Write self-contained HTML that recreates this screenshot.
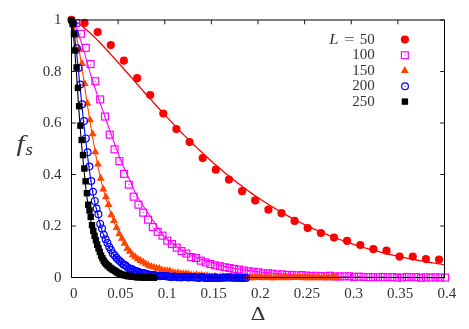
<!DOCTYPE html>
<html><head><meta charset="utf-8"><title>f_s vs Delta</title>
<style>html,body{margin:0;padding:0;background:#fff}svg{display:block}text{font-family:"Liberation Serif",serif;fill:#333}</style></head><body>
<svg width="469" height="329" viewBox="0 0 469 329">
<rect width="469" height="329" fill="#fff"/>
<g stroke="#000" stroke-width="0.9" fill="none"><path d="M71.50,277.5 v-3.9 M71.50,20.0 v4.3"/><path d="M118.12,277.5 v-3.9 M118.12,20.0 v4.3"/><path d="M164.75,277.5 v-3.9 M164.75,20.0 v4.3"/><path d="M211.38,277.5 v-3.9 M211.38,20.0 v4.3"/><path d="M258.00,277.5 v-3.9 M258.00,20.0 v4.3"/><path d="M304.62,277.5 v-3.9 M304.62,20.0 v4.3"/><path d="M351.25,277.5 v-3.9 M351.25,20.0 v4.3"/><path d="M397.88,277.5 v-3.9 M397.88,20.0 v4.3"/><path d="M444.50,277.5 v-3.9 M444.50,20.0 v4.3"/><path d="M71.5,277.50 h4.3 M444.5,277.50 h-4.3"/><path d="M71.5,226.00 h4.3 M444.5,226.00 h-4.3"/><path d="M71.5,174.50 h4.3 M444.5,174.50 h-4.3"/><path d="M71.5,123.00 h4.3 M444.5,123.00 h-4.3"/><path d="M71.5,71.50 h4.3 M444.5,71.50 h-4.3"/><path d="M71.5,20.00 h4.3 M444.5,20.00 h-4.3"/></g>
<g fill="#ff0000"><circle cx="71.4" cy="19.8" r="4.1"/><circle cx="84.5" cy="22.9" r="4.1"/><circle cx="97.7" cy="32.1" r="4.1"/><circle cx="110.8" cy="45.1" r="4.1"/><circle cx="123.9" cy="60.7" r="4.1"/><circle cx="137.1" cy="78.2" r="4.1"/><circle cx="150.2" cy="95.0" r="4.1"/><circle cx="163.3" cy="113.5" r="4.1"/><circle cx="176.4" cy="129.1" r="4.1"/><circle cx="189.6" cy="142.1" r="4.1"/><circle cx="202.7" cy="158.1" r="4.1"/><circle cx="215.8" cy="169.7" r="4.1"/><circle cx="229.0" cy="179.6" r="4.1"/><circle cx="242.1" cy="191.2" r="4.1"/><circle cx="255.2" cy="200.4" r="4.1"/><circle cx="268.4" cy="209.7" r="4.1"/><circle cx="281.5" cy="213.2" r="4.1"/><circle cx="294.6" cy="220.9" r="4.1"/><circle cx="307.7" cy="228.1" r="4.1"/><circle cx="320.9" cy="233.0" r="4.1"/><circle cx="334.0" cy="237.6" r="4.1"/><circle cx="347.1" cy="240.9" r="4.1"/><circle cx="360.3" cy="245.0" r="4.1"/><circle cx="373.4" cy="249.2" r="4.1"/><circle cx="386.5" cy="250.7" r="4.1"/><circle cx="399.6" cy="256.6" r="4.1"/><circle cx="412.8" cy="256.6" r="4.1"/><circle cx="425.9" cy="259.1" r="4.1"/><circle cx="439.0" cy="259.6" r="4.1"/></g>
<path d="M71.4,19.8 L73.7,20.6 L76.1,21.9 L78.4,23.4 L80.8,25.1 L83.1,26.9 L85.5,28.9 L87.8,31.0 L90.2,33.1 L92.5,35.3 L94.9,37.6 L97.2,39.9 L99.6,42.3 L101.9,44.8 L104.3,47.2 L106.6,49.8 L108.9,52.3 L111.3,54.9 L113.6,57.5 L116.0,60.1 L118.3,62.7 L120.7,65.4 L123.0,68.0 L125.4,70.7 L127.7,73.3 L130.1,76.0 L132.4,78.7 L134.8,81.4 L137.1,84.0 L139.4,86.7 L141.8,89.4 L144.1,92.0 L146.5,94.7 L148.8,97.3 L151.2,99.9 L153.5,102.5 L155.9,105.2 L158.2,107.7 L160.6,110.3 L162.9,112.9 L165.3,115.4 L167.6,117.9 L170.0,120.4 L172.3,122.9 L174.6,125.4 L177.0,127.8 L179.3,130.3 L181.7,132.7 L184.0,135.1 L186.4,137.4 L188.7,139.8 L191.1,142.1 L193.4,144.4 L195.8,146.6 L198.1,148.9 L200.5,151.1 L202.8,153.3 L205.2,155.5 L207.5,157.6 L209.8,159.7 L212.2,161.8 L214.5,163.9 L216.9,166.0 L219.2,168.0 L221.6,170.0 L223.9,171.9 L226.3,173.9 L228.6,175.8 L231.0,177.7 L233.3,179.5 L235.7,181.4 L238.0,183.2 L240.4,185.0 L242.7,186.8 L245.0,188.5 L247.4,190.2 L249.7,191.9 L252.1,193.6 L254.4,195.2 L256.8,196.8 L259.1,198.4 L261.5,200.0 L263.8,201.5 L266.2,203.0 L268.5,204.5 L270.9,206.0 L273.2,207.4 L275.5,208.8 L277.9,210.2 L280.2,211.6 L282.6,213.0 L284.9,214.3 L287.3,215.6 L289.6,216.9 L292.0,218.2 L294.3,219.4 L296.7,220.6 L299.0,221.8 L301.4,223.0 L303.7,224.2 L306.1,225.3 L308.4,226.4 L310.7,227.5 L313.1,228.6 L315.4,229.6 L317.8,230.7 L320.1,231.7 L322.5,232.7 L324.8,233.7 L327.2,234.6 L329.5,235.6 L331.9,236.5 L334.2,237.4 L336.6,238.3 L338.9,239.2 L341.3,240.0 L343.6,240.9 L345.9,241.7 L348.3,242.5 L350.6,243.3 L353.0,244.1 L355.3,244.9 L357.7,245.6 L360.0,246.3 L362.4,247.1 L364.7,247.8 L367.1,248.5 L369.4,249.1 L371.8,249.8 L374.1,250.4 L376.5,251.1 L378.8,251.7 L381.1,252.3 L383.5,252.9 L385.8,253.5 L388.2,254.1 L390.5,254.6 L392.9,255.2 L395.2,255.7 L397.6,256.2 L399.9,256.7 L402.3,257.2 L404.6,257.7 L407.0,258.2 L409.3,258.7 L411.6,259.1 L414.0,259.6 L416.3,260.0 L418.7,260.5 L421.0,260.9 L423.4,261.3 L425.7,261.7 L428.1,262.1 L430.4,262.5 L432.8,262.9 L435.1,263.2 L437.5,263.6 L439.8,263.9 L442.2,264.3 L444.5,264.6" fill="none" stroke="#ff0000" stroke-width="1.3" stroke-linejoin="round"/>
<g fill="none" stroke="#ff00ff" stroke-width="1.2"><rect x="72.7" y="19.6" width="6.9" height="6.9"/><rect x="77.5" y="30.3" width="6.9" height="6.9"/><rect x="82.3" y="44.4" width="6.9" height="6.9"/><rect x="87.1" y="60.6" width="6.9" height="6.9"/><rect x="91.9" y="77.8" width="6.9" height="6.9"/><rect x="96.7" y="96.0" width="6.9" height="6.9"/><rect x="101.5" y="113.1" width="6.9" height="6.9"/><rect x="106.3" y="131.2" width="6.9" height="6.9"/><rect x="111.1" y="145.9" width="6.9" height="6.9"/><rect x="115.9" y="157.7" width="6.9" height="6.9"/><rect x="120.6" y="170.4" width="6.9" height="6.9"/><rect x="125.4" y="181.2" width="6.9" height="6.9"/><rect x="130.2" y="193.2" width="6.9" height="6.9"/><rect x="135.0" y="201.2" width="6.9" height="6.9"/><rect x="139.8" y="209.2" width="6.9" height="6.9"/><rect x="144.6" y="216.2" width="6.9" height="6.9"/><rect x="149.4" y="223.6" width="6.9" height="6.9"/><rect x="154.2" y="228.4" width="6.9" height="6.9"/><rect x="159.0" y="232.2" width="6.9" height="6.9"/><rect x="163.8" y="237.2" width="6.9" height="6.9"/><rect x="168.5" y="240.6" width="6.9" height="6.9"/><rect x="173.3" y="244.2" width="6.9" height="6.9"/><rect x="178.1" y="247.6" width="6.9" height="6.9"/><rect x="182.9" y="250.1" width="6.9" height="6.9"/><rect x="187.7" y="253.6" width="6.9" height="6.9"/><rect x="192.5" y="254.6" width="6.9" height="6.9"/><rect x="197.3" y="257.2" width="6.9" height="6.9"/><rect x="202.1" y="258.9" width="6.9" height="6.9"/><rect x="206.9" y="260.6" width="6.9" height="6.9"/><rect x="211.7" y="261.9" width="6.9" height="6.9"/><rect x="216.4" y="262.8" width="6.9" height="6.9"/><rect x="221.2" y="263.8" width="6.9" height="6.9"/><rect x="226.0" y="264.5" width="6.9" height="6.9"/><rect x="230.8" y="265.4" width="6.9" height="6.9"/><rect x="235.6" y="266.1" width="6.9" height="6.9"/><rect x="240.4" y="267.1" width="6.9" height="6.9"/><rect x="245.2" y="267.9" width="6.9" height="6.9"/><rect x="250.0" y="268.3" width="6.9" height="6.9"/><rect x="254.8" y="268.8" width="6.9" height="6.9"/><rect x="259.6" y="269.9" width="6.9" height="6.9"/><rect x="264.3" y="269.9" width="6.9" height="6.9"/><rect x="269.1" y="270.2" width="6.9" height="6.9"/><rect x="273.9" y="271.1" width="6.9" height="6.9"/><rect x="278.7" y="270.9" width="6.9" height="6.9"/><rect x="283.5" y="271.5" width="6.9" height="6.9"/><rect x="288.3" y="271.5" width="6.9" height="6.9"/><rect x="293.1" y="271.9" width="6.9" height="6.9"/><rect x="297.9" y="271.6" width="6.9" height="6.9"/><rect x="302.7" y="272.1" width="6.9" height="6.9"/><rect x="307.4" y="272.5" width="6.9" height="6.9"/><rect x="312.2" y="272.3" width="6.9" height="6.9"/><rect x="317.0" y="272.6" width="6.9" height="6.9"/><rect x="321.8" y="272.7" width="6.9" height="6.9"/><rect x="326.6" y="272.3" width="6.9" height="6.9"/><rect x="331.4" y="273.0" width="6.9" height="6.9"/><rect x="336.2" y="273.0" width="6.9" height="6.9"/><rect x="341.0" y="272.9" width="6.9" height="6.9"/><rect x="345.8" y="272.8" width="6.9" height="6.9"/><rect x="350.6" y="273.5" width="6.9" height="6.9"/><rect x="355.3" y="273.2" width="6.9" height="6.9"/><rect x="360.1" y="273.5" width="6.9" height="6.9"/><rect x="364.9" y="273.7" width="6.9" height="6.9"/><rect x="369.7" y="273.6" width="6.9" height="6.9"/><rect x="374.5" y="273.8" width="6.9" height="6.9"/><rect x="379.3" y="273.5" width="6.9" height="6.9"/><rect x="384.1" y="273.8" width="6.9" height="6.9"/><rect x="388.9" y="273.6" width="6.9" height="6.9"/><rect x="393.7" y="274.1" width="6.9" height="6.9"/><rect x="398.5" y="274.1" width="6.9" height="6.9"/><rect x="403.3" y="273.5" width="6.9" height="6.9"/><rect x="408.0" y="273.6" width="6.9" height="6.9"/><rect x="412.8" y="273.7" width="6.9" height="6.9"/><rect x="417.6" y="274.3" width="6.9" height="6.9"/><rect x="422.4" y="273.9" width="6.9" height="6.9"/><rect x="427.2" y="274.1" width="6.9" height="6.9"/><rect x="432.0" y="273.9" width="6.9" height="6.9"/><rect x="436.8" y="274.1" width="6.9" height="6.9"/><rect x="441.6" y="274.1" width="6.9" height="6.9"/></g><g fill="#ff00ff"><rect x="75.7" y="22.5" width="1" height="1"/><rect x="80.5" y="33.3" width="1" height="1"/><rect x="85.3" y="47.4" width="1" height="1"/><rect x="90.1" y="63.6" width="1" height="1"/><rect x="94.9" y="80.8" width="1" height="1"/><rect x="99.6" y="99.0" width="1" height="1"/><rect x="104.4" y="116.1" width="1" height="1"/><rect x="109.2" y="134.1" width="1" height="1"/><rect x="114.0" y="148.8" width="1" height="1"/><rect x="118.8" y="160.6" width="1" height="1"/><rect x="123.6" y="173.3" width="1" height="1"/><rect x="128.4" y="184.1" width="1" height="1"/><rect x="133.2" y="196.1" width="1" height="1"/><rect x="138.0" y="204.2" width="1" height="1"/><rect x="142.8" y="212.1" width="1" height="1"/><rect x="147.5" y="219.2" width="1" height="1"/><rect x="152.3" y="226.5" width="1" height="1"/><rect x="157.1" y="231.3" width="1" height="1"/><rect x="161.9" y="235.1" width="1" height="1"/><rect x="166.7" y="240.1" width="1" height="1"/><rect x="171.5" y="243.5" width="1" height="1"/><rect x="176.3" y="247.2" width="1" height="1"/><rect x="181.1" y="250.5" width="1" height="1"/><rect x="185.9" y="253.0" width="1" height="1"/><rect x="190.7" y="256.5" width="1" height="1"/><rect x="195.4" y="257.5" width="1" height="1"/><rect x="200.2" y="260.1" width="1" height="1"/><rect x="205.0" y="261.9" width="1" height="1"/><rect x="209.8" y="263.5" width="1" height="1"/><rect x="214.6" y="264.8" width="1" height="1"/><rect x="219.4" y="265.7" width="1" height="1"/><rect x="224.2" y="266.7" width="1" height="1"/><rect x="229.0" y="267.4" width="1" height="1"/><rect x="233.8" y="268.4" width="1" height="1"/><rect x="238.6" y="269.1" width="1" height="1"/><rect x="243.3" y="270.1" width="1" height="1"/><rect x="248.1" y="270.9" width="1" height="1"/><rect x="252.9" y="271.3" width="1" height="1"/><rect x="257.7" y="271.7" width="1" height="1"/><rect x="262.5" y="272.8" width="1" height="1"/><rect x="267.3" y="272.8" width="1" height="1"/><rect x="272.1" y="273.2" width="1" height="1"/><rect x="276.9" y="274.0" width="1" height="1"/><rect x="281.7" y="273.9" width="1" height="1"/><rect x="286.5" y="274.4" width="1" height="1"/><rect x="291.2" y="274.4" width="1" height="1"/><rect x="296.0" y="274.8" width="1" height="1"/><rect x="300.8" y="274.6" width="1" height="1"/><rect x="305.6" y="275.1" width="1" height="1"/><rect x="310.4" y="275.4" width="1" height="1"/><rect x="315.2" y="275.3" width="1" height="1"/><rect x="320.0" y="275.5" width="1" height="1"/><rect x="324.8" y="275.6" width="1" height="1"/><rect x="329.6" y="275.2" width="1" height="1"/><rect x="334.4" y="275.9" width="1" height="1"/><rect x="339.1" y="275.9" width="1" height="1"/><rect x="343.9" y="275.8" width="1" height="1"/><rect x="348.7" y="275.7" width="1" height="1"/><rect x="353.5" y="276.4" width="1" height="1"/><rect x="358.3" y="276.2" width="1" height="1"/><rect x="363.1" y="276.4" width="1" height="1"/><rect x="367.9" y="276.6" width="1" height="1"/><rect x="372.7" y="276.5" width="1" height="1"/><rect x="377.5" y="276.8" width="1" height="1"/><rect x="382.2" y="276.4" width="1" height="1"/><rect x="387.0" y="276.8" width="1" height="1"/><rect x="391.8" y="276.6" width="1" height="1"/><rect x="396.6" y="277.0" width="1" height="1"/><rect x="401.4" y="277.0" width="1" height="1"/><rect x="406.2" y="276.4" width="1" height="1"/><rect x="411.0" y="276.5" width="1" height="1"/><rect x="415.8" y="276.6" width="1" height="1"/><rect x="420.6" y="277.3" width="1" height="1"/><rect x="425.4" y="276.9" width="1" height="1"/><rect x="430.1" y="277.1" width="1" height="1"/><rect x="434.9" y="276.9" width="1" height="1"/><rect x="439.7" y="277.1" width="1" height="1"/><rect x="444.5" y="277.0" width="1" height="1"/></g>
<path d="M71.4,19.8 L73.3,21.5 L75.1,24.6 L77.0,29.3 L78.9,35.1 L80.8,40.8 L82.6,46.7 L84.5,53.1 L86.4,59.6 L88.3,66.3 L90.1,72.8 L92.0,79.0 L93.9,84.8 L95.8,90.4 L97.6,96.0 L99.5,101.3 L101.4,106.7 L103.3,111.9 L105.1,117.2 L107.0,122.5 L108.9,127.8 L110.8,133.2 L112.6,138.5 L114.5,143.8 L116.4,148.9 L118.3,153.9 L120.1,158.7 L122.0,163.2 L123.9,167.4 L125.8,171.5 L127.6,175.5 L129.5,179.5 L131.4,183.7 L133.3,188.2 L135.1,192.5 L137.0,196.1 L138.9,199.3 L140.8,202.2 L142.6,205.0 L144.5,207.8 L146.4,210.6 L148.3,213.5 L150.1,216.3 L152.0,219.1 L153.9,221.9 L155.8,224.7 L157.6,227.5 L159.5,230.3 L161.4,232.9 L163.3,235.2 L165.1,237.1 L167.0,238.8 L168.9,240.3 L170.8,241.8 L172.6,243.3 L174.5,244.7 L176.4,246.2 L178.3,247.5 L180.1,248.9 L182.0,250.1 L183.9,251.3 L185.8,252.4 L187.6,253.4 L189.5,254.3 L191.4,255.2 L193.3,256.0 L195.1,256.8 L197.0,257.6 L198.9,258.3 L200.8,259.0 L202.6,259.6 L204.5,260.3 L206.4,260.9 L208.3,261.5 L210.1,262.1 L212.0,262.7 L213.9,263.3 L215.8,263.9 L217.6,264.5 L219.5,265.1 L221.4,265.6 L223.3,266.1 L225.1,266.5 L227.0,266.9 L228.9,267.3 L230.8,267.7 L232.6,268.0 L234.5,268.4 L236.4,268.7 L238.3,269.0 L240.1,269.3 L242.0,269.6 L243.9,269.8 L245.8,270.1 L247.6,270.4 L249.5,270.6 L251.4,270.9 L253.3,271.1 L255.1,271.3 L257.0,271.6 L258.9,271.8 L260.8,272.0 L262.6,272.2 L264.5,272.4 L266.4,272.6 L268.3,272.8 L270.1,272.9 L272.0,273.1 L273.9,273.2 L275.8,273.4 L277.6,273.5 L279.5,273.7 L281.4,273.8 L283.3,274.0 L285.1,274.1 L287.0,274.2 L288.9,274.3 L290.8,274.5 L292.6,274.6 L294.5,274.7 L296.4,274.8 L298.3,274.9 L300.1,275.0 L302.0,275.1 L303.9,275.2 L305.8,275.3 L307.6,275.4 L309.5,275.4 L311.4,275.5 L313.3,275.6 L315.1,275.7 L317.0,275.8 L318.9,275.9 L320.8,276.0 L322.6,276.0 L324.5,276.1 L326.4,276.2 L328.3,276.3 L330.1,276.3 L332.0,276.4 L333.9,276.5 L335.8,276.5 L337.6,276.6 L339.5,276.6 L341.4,276.7 L343.3,276.7 L345.1,276.8 L347.0,276.8 L348.9,276.9 L350.8,276.9 L352.6,277.0 L354.5,277.0 L356.4,277.0 L358.3,277.1 L360.1,277.1 L362.0,277.1 L363.9,277.2 L365.8,277.2 L367.6,277.2 L369.5,277.2 L371.4,277.3 L373.3,277.3 L375.1,277.3 L377.0,277.3 L378.9,277.4 L380.8,277.4 L382.6,277.4 L384.5,277.4 L386.4,277.5 L388.3,277.5 L390.1,277.5 L392.0,277.5 L393.9,277.5 L395.8,277.6 L397.6,277.6 L399.5,277.6 L401.4,277.6 L403.3,277.6 L405.1,277.6 L407.0,277.7 L408.9,277.7 L410.8,277.7 L412.6,277.7 L414.5,277.7 L416.4,277.7 L418.3,277.8 L420.1,277.8 L422.0,277.8 L423.9,277.8 L425.8,277.8 L427.6,277.8 L429.5,277.8 L431.4,277.8 L433.3,277.9 L435.1,277.9 L437.0,277.9 L438.9,277.9 L440.8,277.9 L442.6,277.9 L444.5,277.9" fill="none" stroke="#ff00ff" stroke-width="1.1" stroke-linejoin="round"/>
<g fill="#ff4500"><path d="M74.1,18.9 l4.00,6.85 h-8.00 z"/><path d="M76.7,29.4 l4.00,6.85 h-8.00 z"/><path d="M79.4,45.0 l4.00,6.85 h-8.00 z"/><path d="M82.0,59.1 l4.00,6.85 h-8.00 z"/><path d="M84.7,79.2 l4.00,6.85 h-8.00 z"/><path d="M87.4,99.0 l4.00,6.85 h-8.00 z"/><path d="M90.0,115.4 l4.00,6.85 h-8.00 z"/><path d="M92.7,129.5 l4.00,6.85 h-8.00 z"/><path d="M95.3,147.4 l4.00,6.85 h-8.00 z"/><path d="M98.0,159.7 l4.00,6.85 h-8.00 z"/><path d="M100.7,173.8 l4.00,6.85 h-8.00 z"/><path d="M103.3,184.6 l4.00,6.85 h-8.00 z"/><path d="M106.0,192.4 l4.00,6.85 h-8.00 z"/><path d="M108.6,200.1 l4.00,6.85 h-8.00 z"/><path d="M111.3,210.3 l4.00,6.85 h-8.00 z"/><path d="M114.0,216.1 l4.00,6.85 h-8.00 z"/><path d="M116.6,223.1 l4.00,6.85 h-8.00 z"/><path d="M119.3,229.3 l4.00,6.85 h-8.00 z"/><path d="M121.9,234.0 l4.00,6.85 h-8.00 z"/><path d="M124.6,238.8 l4.00,6.85 h-8.00 z"/><path d="M127.3,243.8 l4.00,6.85 h-8.00 z"/><path d="M129.9,246.9 l4.00,6.85 h-8.00 z"/><path d="M132.6,250.4 l4.00,6.85 h-8.00 z"/><path d="M135.2,252.3 l4.00,6.85 h-8.00 z"/><path d="M137.9,254.4 l4.00,6.85 h-8.00 z"/><path d="M140.6,256.1 l4.00,6.85 h-8.00 z"/><path d="M143.2,257.6 l4.00,6.85 h-8.00 z"/><path d="M145.9,259.5 l4.00,6.85 h-8.00 z"/><path d="M148.5,260.9 l4.00,6.85 h-8.00 z"/><path d="M151.2,261.9 l4.00,6.85 h-8.00 z"/><path d="M153.9,262.7 l4.00,6.85 h-8.00 z"/><path d="M156.5,263.7 l4.00,6.85 h-8.00 z"/><path d="M159.2,264.0 l4.00,6.85 h-8.00 z"/><path d="M161.8,265.4 l4.00,6.85 h-8.00 z"/><path d="M164.5,266.0 l4.00,6.85 h-8.00 z"/><path d="M167.2,266.2 l4.00,6.85 h-8.00 z"/><path d="M169.8,266.5 l4.00,6.85 h-8.00 z"/><path d="M172.5,267.8 l4.00,6.85 h-8.00 z"/><path d="M175.1,268.6 l4.00,6.85 h-8.00 z"/><path d="M177.8,268.3 l4.00,6.85 h-8.00 z"/><path d="M180.5,269.3 l4.00,6.85 h-8.00 z"/><path d="M183.1,269.2 l4.00,6.85 h-8.00 z"/><path d="M185.8,269.3 l4.00,6.85 h-8.00 z"/><path d="M188.4,269.7 l4.00,6.85 h-8.00 z"/><path d="M191.1,270.5 l4.00,6.85 h-8.00 z"/><path d="M193.8,270.8 l4.00,6.85 h-8.00 z"/><path d="M196.4,270.2 l4.00,6.85 h-8.00 z"/><path d="M199.1,271.0 l4.00,6.85 h-8.00 z"/><path d="M201.7,270.7 l4.00,6.85 h-8.00 z"/><path d="M204.4,271.5 l4.00,6.85 h-8.00 z"/><path d="M207.1,271.3 l4.00,6.85 h-8.00 z"/><path d="M209.7,272.1 l4.00,6.85 h-8.00 z"/><path d="M212.4,272.3 l4.00,6.85 h-8.00 z"/><path d="M215.0,272.1 l4.00,6.85 h-8.00 z"/><path d="M217.7,272.7 l4.00,6.85 h-8.00 z"/><path d="M220.4,272.2 l4.00,6.85 h-8.00 z"/><path d="M223.0,272.1 l4.00,6.85 h-8.00 z"/><path d="M225.7,272.7 l4.00,6.85 h-8.00 z"/><path d="M228.3,272.3 l4.00,6.85 h-8.00 z"/><path d="M231.0,272.5 l4.00,6.85 h-8.00 z"/><path d="M233.7,272.7 l4.00,6.85 h-8.00 z"/><path d="M236.3,273.0 l4.00,6.85 h-8.00 z"/><path d="M239.0,272.5 l4.00,6.85 h-8.00 z"/><path d="M241.6,272.5 l4.00,6.85 h-8.00 z"/><path d="M244.3,273.3 l4.00,6.85 h-8.00 z"/><path d="M247.0,272.8 l4.00,6.85 h-8.00 z"/><path d="M249.6,273.3 l4.00,6.85 h-8.00 z"/><path d="M252.3,273.3 l4.00,6.85 h-8.00 z"/><path d="M254.9,273.0 l4.00,6.85 h-8.00 z"/><path d="M257.6,273.1 l4.00,6.85 h-8.00 z"/><path d="M260.3,273.2 l4.00,6.85 h-8.00 z"/><path d="M262.9,273.3 l4.00,6.85 h-8.00 z"/><path d="M265.6,273.2 l4.00,6.85 h-8.00 z"/><path d="M268.2,273.2 l4.00,6.85 h-8.00 z"/><path d="M270.9,273.3 l4.00,6.85 h-8.00 z"/><path d="M273.6,273.3 l4.00,6.85 h-8.00 z"/><path d="M276.2,273.2 l4.00,6.85 h-8.00 z"/><path d="M278.9,273.1 l4.00,6.85 h-8.00 z"/><path d="M281.5,273.3 l4.00,6.85 h-8.00 z"/><path d="M284.2,272.9 l4.00,6.85 h-8.00 z"/><path d="M286.9,273.0 l4.00,6.85 h-8.00 z"/><path d="M289.5,273.3 l4.00,6.85 h-8.00 z"/><path d="M292.2,273.2 l4.00,6.85 h-8.00 z"/><path d="M294.8,273.2 l4.00,6.85 h-8.00 z"/><path d="M297.5,272.7 l4.00,6.85 h-8.00 z"/><path d="M300.2,273.1 l4.00,6.85 h-8.00 z"/><path d="M302.8,273.3 l4.00,6.85 h-8.00 z"/><path d="M305.5,272.7 l4.00,6.85 h-8.00 z"/><path d="M308.1,273.3 l4.00,6.85 h-8.00 z"/><path d="M310.8,273.3 l4.00,6.85 h-8.00 z"/><path d="M313.5,272.8 l4.00,6.85 h-8.00 z"/><path d="M316.1,273.3 l4.00,6.85 h-8.00 z"/><path d="M318.8,273.2 l4.00,6.85 h-8.00 z"/><path d="M321.4,273.3 l4.00,6.85 h-8.00 z"/><path d="M324.1,273.1 l4.00,6.85 h-8.00 z"/><path d="M326.8,273.3 l4.00,6.85 h-8.00 z"/><path d="M329.4,273.3 l4.00,6.85 h-8.00 z"/><path d="M332.1,272.7 l4.00,6.85 h-8.00 z"/><path d="M334.7,272.8 l4.00,6.85 h-8.00 z"/><path d="M337.4,273.3 l4.00,6.85 h-8.00 z"/></g>
<path d="M71.0,19.8 L73.7,25.8 L76.3,35.7 L79.0,49.1 L81.6,65.7 L84.3,83.7 L87.0,102.5 L89.6,119.2 L92.3,135.4 L94.9,150.1 L97.6,164.9 L100.3,177.3 L102.9,188.2 L105.6,197.0 L108.2,205.5 L110.9,213.4 L113.6,221.1 L116.2,227.4 L118.9,233.4 L121.5,238.6 L124.2,243.4 L126.9,247.7 L129.5,251.6 L132.2,254.4 L134.8,256.9 L137.5,258.8 L140.2,260.6 L142.8,262.3 L145.5,263.9 L148.1,265.4 L150.8,266.4 L153.5,267.3 L156.1,268.0 L158.8,268.9 L161.4,269.7 L164.1,270.5 L166.8,270.8 L169.4,271.4 L172.1,272.2 L174.7,272.8 L177.4,273.3 L180.1,273.5 L182.7,273.9 L185.4,274.0 L188.0,274.4 L190.7,274.9 L193.4,275.1 L196.0,275.3 L198.7,275.2 L201.3,275.6 L204.0,275.7 L206.7,276.2 L209.3,276.5 L212.0,276.7 L214.6,276.9 L217.3,276.9 L220.0,276.9 L222.6,276.9 L225.3,276.9 L227.9,277.0 L230.6,277.0 L233.3,277.3 L235.9,277.3 L238.6,277.2 L241.2,277.3 L243.9,277.4 L246.6,277.7 L249.2,277.7 L251.9,277.8 L254.5,277.7 L257.2,277.6 L259.9,277.7 L262.5,277.8 L265.2,277.8 L267.8,277.8 L270.5,277.8 L273.2,277.8 L275.8,277.8 L278.5,277.8 L281.1,277.7 L283.8,277.6 L286.5,277.6 L289.1,277.7 L291.8,277.8 L294.4,277.6 L297.1,277.6 L299.8,277.6 L302.4,277.6 L305.1,277.7 L307.7,277.7 L310.4,277.7 L313.1,277.7 L315.7,277.7 L318.4,277.8 L321.0,277.8 L323.7,277.8 L326.4,277.8 L329.0,277.7 L331.7,277.5 L334.3,277.5 L337.0,277.6" fill="none" stroke="#ff4500" stroke-width="1.1" stroke-linejoin="round"/>
<g fill="none" stroke="#0000ff" stroke-width="1.2"><circle cx="73.2" cy="23.6" r="3.4"/><circle cx="75.0" cy="33.4" r="3.4"/><circle cx="76.8" cy="48.3" r="3.4"/><circle cx="78.6" cy="67.9" r="3.4"/><circle cx="80.4" cy="84.5" r="3.4"/><circle cx="82.2" cy="104.3" r="3.4"/><circle cx="84.0" cy="121.1" r="3.4"/><circle cx="85.8" cy="138.4" r="3.4"/><circle cx="87.6" cy="152.3" r="3.4"/><circle cx="89.4" cy="166.6" r="3.4"/><circle cx="91.2" cy="181.0" r="3.4"/><circle cx="93.0" cy="191.7" r="3.4"/><circle cx="94.8" cy="200.9" r="3.4"/><circle cx="96.6" cy="208.5" r="3.4"/><circle cx="98.4" cy="214.3" r="3.4"/><circle cx="100.2" cy="223.9" r="3.4"/><circle cx="102.0" cy="228.4" r="3.4"/><circle cx="103.8" cy="234.7" r="3.4"/><circle cx="105.6" cy="239.3" r="3.4"/><circle cx="107.4" cy="243.1" r="3.4"/><circle cx="109.2" cy="246.9" r="3.4"/><circle cx="111.0" cy="250.0" r="3.4"/><circle cx="112.8" cy="253.4" r="3.4"/><circle cx="114.6" cy="255.5" r="3.4"/><circle cx="116.4" cy="257.7" r="3.4"/><circle cx="118.2" cy="259.7" r="3.4"/><circle cx="120.0" cy="261.2" r="3.4"/><circle cx="121.8" cy="263.1" r="3.4"/><circle cx="123.6" cy="264.7" r="3.4"/><circle cx="125.4" cy="265.2" r="3.4"/><circle cx="127.2" cy="267.0" r="3.4"/><circle cx="129.0" cy="268.4" r="3.4"/><circle cx="130.8" cy="268.8" r="3.4"/><circle cx="132.6" cy="269.4" r="3.4"/><circle cx="134.4" cy="270.8" r="3.4"/><circle cx="136.2" cy="271.0" r="3.4"/><circle cx="138.0" cy="271.7" r="3.4"/><circle cx="139.8" cy="272.4" r="3.4"/><circle cx="141.6" cy="273.1" r="3.4"/><circle cx="143.4" cy="272.9" r="3.4"/><circle cx="145.2" cy="273.6" r="3.4"/><circle cx="147.0" cy="274.0" r="3.4"/><circle cx="148.8" cy="274.8" r="3.4"/><circle cx="150.6" cy="274.7" r="3.4"/><circle cx="152.4" cy="275.5" r="3.4"/><circle cx="154.2" cy="275.1" r="3.4"/><circle cx="156.0" cy="275.5" r="3.4"/><circle cx="157.8" cy="276.0" r="3.4"/><circle cx="159.6" cy="276.3" r="3.4"/><circle cx="161.4" cy="276.0" r="3.4"/><circle cx="163.2" cy="275.9" r="3.4"/><circle cx="165.0" cy="275.9" r="3.4"/><circle cx="166.8" cy="276.5" r="3.4"/><circle cx="168.6" cy="276.2" r="3.4"/><circle cx="170.4" cy="277.0" r="3.4"/><circle cx="172.2" cy="277.1" r="3.4"/><circle cx="174.0" cy="276.5" r="3.4"/><circle cx="175.8" cy="276.7" r="3.4"/><circle cx="177.6" cy="277.3" r="3.4"/><circle cx="179.4" cy="277.1" r="3.4"/><circle cx="181.2" cy="277.4" r="3.4"/><circle cx="183.0" cy="276.9" r="3.4"/><circle cx="184.8" cy="276.8" r="3.4"/><circle cx="186.6" cy="277.0" r="3.4"/><circle cx="188.4" cy="277.5" r="3.4"/><circle cx="190.2" cy="277.1" r="3.4"/><circle cx="192.0" cy="277.2" r="3.4"/><circle cx="193.8" cy="277.3" r="3.4"/><circle cx="195.6" cy="277.4" r="3.4"/><circle cx="197.4" cy="277.4" r="3.4"/><circle cx="199.2" cy="277.9" r="3.4"/><circle cx="201.0" cy="277.2" r="3.4"/><circle cx="202.8" cy="277.0" r="3.4"/><circle cx="204.6" cy="277.9" r="3.4"/><circle cx="206.4" cy="277.9" r="3.4"/><circle cx="208.2" cy="277.9" r="3.4"/><circle cx="210.0" cy="277.5" r="3.4"/><circle cx="211.8" cy="277.9" r="3.4"/><circle cx="213.6" cy="277.9" r="3.4"/><circle cx="215.4" cy="277.3" r="3.4"/><circle cx="217.2" cy="277.9" r="3.4"/><circle cx="219.0" cy="277.9" r="3.4"/><circle cx="220.8" cy="277.8" r="3.4"/><circle cx="222.6" cy="277.7" r="3.4"/><circle cx="224.4" cy="277.4" r="3.4"/><circle cx="226.2" cy="277.5" r="3.4"/><circle cx="228.0" cy="277.4" r="3.4"/><circle cx="229.8" cy="277.3" r="3.4"/><circle cx="231.6" cy="277.8" r="3.4"/><circle cx="233.4" cy="277.5" r="3.4"/><circle cx="235.2" cy="277.9" r="3.4"/><circle cx="237.0" cy="277.3" r="3.4"/><circle cx="238.8" cy="277.9" r="3.4"/><circle cx="240.6" cy="277.9" r="3.4"/><circle cx="242.4" cy="277.9" r="3.4"/><circle cx="244.2" cy="277.9" r="3.4"/><circle cx="246.0" cy="277.9" r="3.4"/></g><g fill="#0000ff"><rect x="72.7" y="23.1" width="1" height="1"/><rect x="74.5" y="32.9" width="1" height="1"/><rect x="76.3" y="47.8" width="1" height="1"/><rect x="78.1" y="67.4" width="1" height="1"/><rect x="79.9" y="84.0" width="1" height="1"/><rect x="81.7" y="103.8" width="1" height="1"/><rect x="83.5" y="120.6" width="1" height="1"/><rect x="85.3" y="137.9" width="1" height="1"/><rect x="87.1" y="151.8" width="1" height="1"/><rect x="88.9" y="166.1" width="1" height="1"/><rect x="90.7" y="180.5" width="1" height="1"/><rect x="92.5" y="191.2" width="1" height="1"/><rect x="94.3" y="200.4" width="1" height="1"/><rect x="96.1" y="208.0" width="1" height="1"/><rect x="97.9" y="213.8" width="1" height="1"/><rect x="99.7" y="223.4" width="1" height="1"/><rect x="101.5" y="227.9" width="1" height="1"/><rect x="103.3" y="234.2" width="1" height="1"/><rect x="105.1" y="238.8" width="1" height="1"/><rect x="106.9" y="242.6" width="1" height="1"/><rect x="108.7" y="246.4" width="1" height="1"/><rect x="110.5" y="249.5" width="1" height="1"/><rect x="112.3" y="252.9" width="1" height="1"/><rect x="114.1" y="255.0" width="1" height="1"/><rect x="115.9" y="257.2" width="1" height="1"/><rect x="117.7" y="259.2" width="1" height="1"/><rect x="119.5" y="260.7" width="1" height="1"/><rect x="121.3" y="262.6" width="1" height="1"/><rect x="123.1" y="264.2" width="1" height="1"/><rect x="124.9" y="264.7" width="1" height="1"/><rect x="126.7" y="266.5" width="1" height="1"/><rect x="128.5" y="267.9" width="1" height="1"/><rect x="130.3" y="268.3" width="1" height="1"/><rect x="132.1" y="268.9" width="1" height="1"/><rect x="133.9" y="270.3" width="1" height="1"/><rect x="135.7" y="270.5" width="1" height="1"/><rect x="137.5" y="271.2" width="1" height="1"/><rect x="139.3" y="271.9" width="1" height="1"/><rect x="141.1" y="272.6" width="1" height="1"/><rect x="142.9" y="272.4" width="1" height="1"/><rect x="144.7" y="273.1" width="1" height="1"/><rect x="146.5" y="273.5" width="1" height="1"/><rect x="148.3" y="274.3" width="1" height="1"/><rect x="150.1" y="274.2" width="1" height="1"/><rect x="151.9" y="275.0" width="1" height="1"/><rect x="153.7" y="274.6" width="1" height="1"/><rect x="155.5" y="275.0" width="1" height="1"/><rect x="157.3" y="275.5" width="1" height="1"/><rect x="159.1" y="275.8" width="1" height="1"/><rect x="160.9" y="275.5" width="1" height="1"/><rect x="162.7" y="275.4" width="1" height="1"/><rect x="164.5" y="275.4" width="1" height="1"/><rect x="166.3" y="276.0" width="1" height="1"/><rect x="168.1" y="275.7" width="1" height="1"/><rect x="169.9" y="276.5" width="1" height="1"/><rect x="171.7" y="276.6" width="1" height="1"/><rect x="173.5" y="276.0" width="1" height="1"/><rect x="175.3" y="276.2" width="1" height="1"/><rect x="177.1" y="276.8" width="1" height="1"/><rect x="178.9" y="276.6" width="1" height="1"/><rect x="180.7" y="276.9" width="1" height="1"/><rect x="182.5" y="276.4" width="1" height="1"/><rect x="184.3" y="276.3" width="1" height="1"/><rect x="186.1" y="276.5" width="1" height="1"/><rect x="187.9" y="277.0" width="1" height="1"/><rect x="189.7" y="276.6" width="1" height="1"/><rect x="191.5" y="276.7" width="1" height="1"/><rect x="193.3" y="276.8" width="1" height="1"/><rect x="195.1" y="276.9" width="1" height="1"/><rect x="196.9" y="276.9" width="1" height="1"/><rect x="198.7" y="277.4" width="1" height="1"/><rect x="200.5" y="276.7" width="1" height="1"/><rect x="202.3" y="276.5" width="1" height="1"/><rect x="204.1" y="277.4" width="1" height="1"/><rect x="205.9" y="277.4" width="1" height="1"/><rect x="207.7" y="277.4" width="1" height="1"/><rect x="209.5" y="277.0" width="1" height="1"/><rect x="211.3" y="277.4" width="1" height="1"/><rect x="213.1" y="277.4" width="1" height="1"/><rect x="214.9" y="276.8" width="1" height="1"/><rect x="216.7" y="277.4" width="1" height="1"/><rect x="218.5" y="277.4" width="1" height="1"/><rect x="220.3" y="277.3" width="1" height="1"/><rect x="222.1" y="277.2" width="1" height="1"/><rect x="223.9" y="276.9" width="1" height="1"/><rect x="225.7" y="277.0" width="1" height="1"/><rect x="227.5" y="276.9" width="1" height="1"/><rect x="229.3" y="276.8" width="1" height="1"/><rect x="231.1" y="277.3" width="1" height="1"/><rect x="232.9" y="277.0" width="1" height="1"/><rect x="234.7" y="277.4" width="1" height="1"/><rect x="236.5" y="276.8" width="1" height="1"/><rect x="238.3" y="277.4" width="1" height="1"/><rect x="240.1" y="277.4" width="1" height="1"/><rect x="241.9" y="277.4" width="1" height="1"/><rect x="243.7" y="277.4" width="1" height="1"/><rect x="245.5" y="277.4" width="1" height="1"/></g>
<path d="M70.9,19.8 L72.7,25.6 L74.5,35.1 L76.3,49.9 L78.1,66.9 L79.9,85.6 L81.7,103.3 L83.5,121.3 L85.3,137.3 L87.1,152.4 L88.9,166.6 L90.7,179.8 L92.5,191.2 L94.3,200.4 L96.1,207.9 L97.9,215.6 L99.7,222.2 L101.5,229.0 L103.3,234.1 L105.1,239.0 L106.9,243.1 L108.7,246.7 L110.5,250.1 L112.3,252.9 L114.1,255.5 L115.9,257.6 L117.7,259.5 L119.5,261.3 L121.3,263.0 L123.1,264.3 L124.9,265.7 L126.7,266.9 L128.5,268.1 L130.3,268.9 L132.1,269.7 L133.9,270.4 L135.7,271.1 L137.5,271.7 L139.3,272.4 L141.1,272.8 L142.9,273.2 L144.7,273.5 L146.5,274.1 L148.3,274.5 L150.1,275.0 L151.9,275.1 L153.7,275.4 L155.5,275.5 L157.3,275.9 L159.1,276.1 L160.9,276.1 L162.7,276.0 L164.5,276.1 L166.3,276.2 L168.1,276.6 L169.9,276.8 L171.7,276.9 L173.5,276.8 L175.3,276.8 L177.1,277.0 L178.9,277.3 L180.7,277.1 L182.5,277.0 L184.3,276.9 L186.1,277.1 L187.9,277.2 L189.7,277.3 L191.5,277.2 L193.3,277.3 L195.1,277.4 L196.9,277.6 L198.7,277.5 L200.5,277.4 L202.3,277.4 L204.1,277.6 L205.9,277.9 L207.7,277.8 L209.5,277.8 L211.3,277.8 L213.1,277.7 L214.9,277.7 L216.7,277.7 L218.5,277.9 L220.3,277.8 L222.1,277.6 L223.9,277.5 L225.7,277.5 L227.5,277.4 L229.3,277.5 L231.1,277.5 L232.9,277.7 L234.7,277.6 L236.5,277.7 L238.3,277.7 L240.1,277.9 L241.9,277.9 L243.7,277.9 L245.5,277.9" fill="none" stroke="#0000ff" stroke-width="1.1" stroke-linejoin="round"/>
<g fill="#000000"><rect x="68.2" y="17.0" width="6.4" height="6.4"/><rect x="69.5" y="21.0" width="6.4" height="6.4"/><rect x="70.8" y="30.9" width="6.4" height="6.4"/><rect x="72.1" y="47.3" width="6.4" height="6.4"/><rect x="73.4" y="64.3" width="6.4" height="6.4"/><rect x="74.7" y="84.7" width="6.4" height="6.4"/><rect x="75.9" y="103.0" width="6.4" height="6.4"/><rect x="77.2" y="122.4" width="6.4" height="6.4"/><rect x="78.5" y="136.8" width="6.4" height="6.4"/><rect x="79.8" y="151.9" width="6.4" height="6.4"/><rect x="81.1" y="165.3" width="6.4" height="6.4"/><rect x="82.4" y="178.1" width="6.4" height="6.4"/><rect x="83.7" y="190.0" width="6.4" height="6.4"/><rect x="85.0" y="201.5" width="6.4" height="6.4"/><rect x="86.3" y="207.3" width="6.4" height="6.4"/><rect x="87.5" y="213.7" width="6.4" height="6.4"/><rect x="88.8" y="222.0" width="6.4" height="6.4"/><rect x="90.1" y="227.7" width="6.4" height="6.4"/><rect x="91.4" y="232.6" width="6.4" height="6.4"/><rect x="92.7" y="237.0" width="6.4" height="6.4"/><rect x="94.0" y="241.4" width="6.4" height="6.4"/><rect x="95.3" y="245.1" width="6.4" height="6.4"/><rect x="96.6" y="248.7" width="6.4" height="6.4"/><rect x="97.9" y="252.4" width="6.4" height="6.4"/><rect x="99.2" y="255.0" width="6.4" height="6.4"/><rect x="100.5" y="257.5" width="6.4" height="6.4"/><rect x="101.7" y="259.4" width="6.4" height="6.4"/><rect x="103.0" y="260.8" width="6.4" height="6.4"/><rect x="104.3" y="262.2" width="6.4" height="6.4"/><rect x="105.6" y="263.2" width="6.4" height="6.4"/><rect x="106.9" y="264.5" width="6.4" height="6.4"/><rect x="108.2" y="265.3" width="6.4" height="6.4"/><rect x="109.5" y="266.5" width="6.4" height="6.4"/><rect x="110.8" y="267.0" width="6.4" height="6.4"/><rect x="112.1" y="267.8" width="6.4" height="6.4"/><rect x="113.4" y="268.8" width="6.4" height="6.4"/><rect x="114.6" y="269.8" width="6.4" height="6.4"/><rect x="115.9" y="269.9" width="6.4" height="6.4"/><rect x="117.2" y="270.8" width="6.4" height="6.4"/><rect x="118.5" y="271.5" width="6.4" height="6.4"/><rect x="119.8" y="271.7" width="6.4" height="6.4"/><rect x="121.1" y="272.0" width="6.4" height="6.4"/><rect x="122.4" y="271.9" width="6.4" height="6.4"/><rect x="123.7" y="272.5" width="6.4" height="6.4"/><rect x="125.0" y="273.0" width="6.4" height="6.4"/><rect x="126.3" y="272.8" width="6.4" height="6.4"/><rect x="127.5" y="273.1" width="6.4" height="6.4"/><rect x="128.8" y="273.2" width="6.4" height="6.4"/><rect x="130.1" y="273.5" width="6.4" height="6.4"/><rect x="131.4" y="273.6" width="6.4" height="6.4"/><rect x="132.7" y="273.8" width="6.4" height="6.4"/><rect x="134.0" y="274.1" width="6.4" height="6.4"/><rect x="135.3" y="273.8" width="6.4" height="6.4"/><rect x="136.6" y="273.9" width="6.4" height="6.4"/><rect x="137.9" y="273.9" width="6.4" height="6.4"/><rect x="139.2" y="274.0" width="6.4" height="6.4"/><rect x="140.4" y="274.0" width="6.4" height="6.4"/><rect x="141.7" y="274.6" width="6.4" height="6.4"/><rect x="143.0" y="274.5" width="6.4" height="6.4"/><rect x="144.3" y="274.1" width="6.4" height="6.4"/><rect x="145.6" y="274.4" width="6.4" height="6.4"/><rect x="146.9" y="274.3" width="6.4" height="6.4"/><rect x="148.2" y="274.3" width="6.4" height="6.4"/><rect x="149.5" y="274.4" width="6.4" height="6.4"/><rect x="150.8" y="274.6" width="6.4" height="6.4"/></g>
<path d="M70.9,20.2 L72.2,26.2 L73.5,36.3 L74.8,50.7 L76.1,68.6 L77.4,87.2 L78.6,106.6 L79.9,123.9 L81.2,140.2 L82.5,154.5 L83.8,168.3 L85.1,181.0 L86.4,193.1 L87.7,202.8 L89.0,210.7 L90.2,217.5 L91.5,224.3 L92.8,230.6 L94.1,235.6 L95.4,240.2 L96.7,244.4 L98.0,248.3 L99.3,251.9 L100.6,255.2 L101.9,258.2 L103.2,260.5 L104.4,262.5 L105.7,264.0 L107.0,265.3 L108.3,266.5 L109.6,267.5 L110.9,268.6 L112.2,269.5 L113.5,270.3 L114.8,271.1 L116.1,272.0 L117.3,272.7 L118.6,273.4 L119.9,273.9 L121.2,274.5 L122.5,274.9 L123.8,275.1 L125.1,275.3 L126.4,275.7 L127.7,276.0 L129.0,276.2 L130.2,276.3 L131.5,276.5 L132.8,276.7 L134.1,276.9 L135.4,277.0 L136.7,277.1 L138.0,277.1 L139.3,277.1 L140.6,277.1 L141.9,277.2 L143.1,277.4 L144.4,277.5 L145.7,277.6 L147.0,277.5 L148.3,277.4 L149.6,277.5 L150.9,277.5 L152.2,277.6 L153.5,277.7" fill="none" stroke="#000000" stroke-width="1.1" stroke-linejoin="round"/>
<g fill="#ff0000"><circle cx="404.9" cy="39.5" r="4.1"/></g>
<g fill="none" stroke="#ff00ff" stroke-width="1.2"><rect x="401.4" y="51.8" width="6.9" height="6.9"/></g><g fill="#ff00ff"><rect x="404.3" y="54.7" width="1" height="1"/></g>
<g fill="#ff4500"><path d="M404.8,66.1 l4.00,6.85 h-8.00 z"/></g>
<g fill="none" stroke="#0000ff" stroke-width="1.2"><circle cx="405.0" cy="86.3" r="3.4"/></g><g fill="#0000ff"><rect x="404.5" y="85.8" width="1" height="1"/></g>
<g fill="#000000"><rect x="401.7" y="98.4" width="6.4" height="6.4"/></g>
<rect x="71.5" y="20.0" width="373.0" height="257.5" stroke="#000" stroke-width="1" fill="none" stroke-linejoin="round"/>
<text x="73.8" y="297.7" font-size="15" text-anchor="middle">0</text>
<text x="120.4" y="297.7" font-size="15" text-anchor="middle">0.05</text>
<text x="167.1" y="297.7" font-size="15" text-anchor="middle">0.1</text>
<text x="213.7" y="297.7" font-size="15" text-anchor="middle">0.15</text>
<text x="260.3" y="297.7" font-size="15" text-anchor="middle">0.2</text>
<text x="306.9" y="297.7" font-size="15" text-anchor="middle">0.25</text>
<text x="353.6" y="297.7" font-size="15" text-anchor="middle">0.3</text>
<text x="400.2" y="297.7" font-size="15" text-anchor="middle">0.35</text>
<text x="446.8" y="297.7" font-size="15" text-anchor="middle">0.4</text>
<text x="61.6" y="281.7" font-size="15" text-anchor="end">0</text>
<text x="61.6" y="230.2" font-size="15" text-anchor="end">0.2</text>
<text x="61.6" y="178.7" font-size="15" text-anchor="end">0.4</text>
<text x="61.6" y="127.2" font-size="15" text-anchor="end">0.6</text>
<text x="61.6" y="75.7" font-size="15" text-anchor="end">0.8</text>
<text x="61.6" y="24.2" font-size="15" text-anchor="end">1</text>
<text y="44.2" font-size="15"><tspan x="329.2" font-style="italic" textLength="9.17" lengthAdjust="spacingAndGlyphs">L</tspan> <tspan x="344.2" textLength="10.15" lengthAdjust="spacingAndGlyphs">=</tspan> <tspan x="359.8">50</tspan></text>
<text x="374.8" y="59.4" font-size="15" text-anchor="end">100</text>
<text x="374.8" y="74.8" font-size="15" text-anchor="end">150</text>
<text x="374.8" y="90.3" font-size="15" text-anchor="end">200</text>
<text x="374.8" y="105.8" font-size="15" text-anchor="end">250</text>
<text font-style="italic"><tspan x="16.5" y="151" font-size="23" textLength="8" lengthAdjust="spacingAndGlyphs">f</tspan><tspan x="25.6" y="155" font-size="16.5" textLength="7.38" lengthAdjust="spacingAndGlyphs">s</tspan></text>
<text transform="translate(258,320.4) scale(1.2,1)" font-size="19" text-anchor="middle">Δ</text>
</svg></body></html>
